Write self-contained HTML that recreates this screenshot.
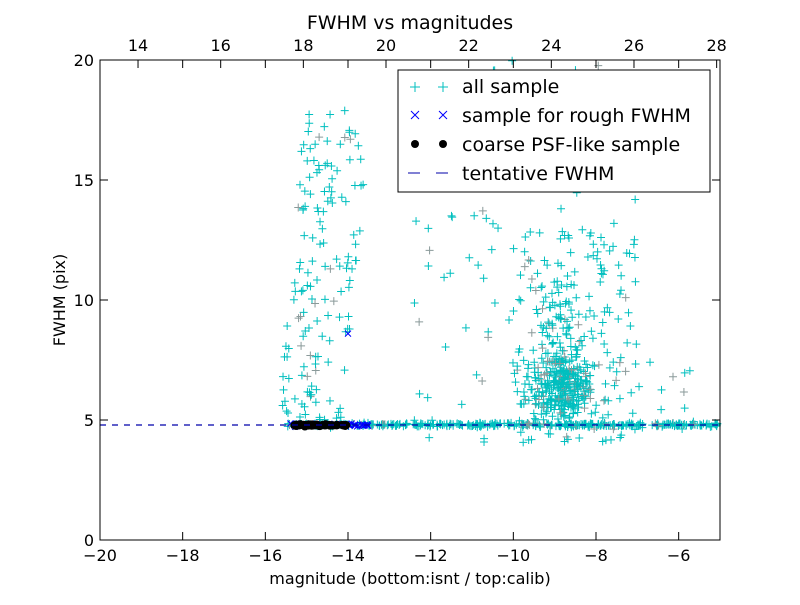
<!DOCTYPE html>
<html><head><meta charset="utf-8"><style>
body{margin:0;background:#fff;}
svg text{font-family:"DejaVu Sans","Liberation Sans",sans-serif;}
</style></head><body>
<svg id="s" width="800" height="600" xmlns="http://www.w3.org/2000/svg">
<rect width="800" height="600" fill="#fff"/>
<g id="pts"></g>
<line x1="100" y1="425" x2="720" y2="425" stroke="#0000aa" stroke-width="1.2" stroke-dasharray="6,6"/>
<rect x="100" y="60" width="620" height="480" fill="none" stroke="#000" stroke-width="1"/>
<g id="ticks" stroke="#000" stroke-width="1"></g>
<g id="lbl" font-size="16" fill="#000"></g>
<text x="410" y="29" font-size="19" text-anchor="middle">FWHM vs magnitudes</text>
<text x="410" y="584" font-size="16" text-anchor="middle">magnitude (bottom:isnt / top:calib)</text>
<text x="65" y="300" font-size="16" text-anchor="middle" transform="rotate(-90 65 300)">FWHM (pix)</text>
<g id="leg">
<rect x="398" y="70" width="312" height="122" fill="#fff" stroke="#000"/>
<g stroke="#00bfbf" stroke-width="1"><path d="M410 87h10M415 82v10M438 87h10M443 82v10"/></g>
<g stroke="#0000ff" stroke-width="1"><path d="M411 111l8 8M411 119l8-8M439 111l8 8M439 119l8-8"/></g>
<circle cx="415" cy="144" r="4" fill="#000"/><circle cx="443" cy="144" r="4" fill="#000"/>
<path d="M408 173h12M436 173h12" stroke="#0000aa"/>
<g font-size="19"><text x="462" y="93">all sample</text><text x="462" y="122">sample for rough FWHM</text><text x="462" y="151">coarse PSF-like sample</text><text x="462" y="180">tentative FWHM</text></g>
</g>
</svg>
<script>
var s=1234567;function r(){s=(s*16807)%2147483647;return s/2147483647;}
function g(){return (r()+r()+r()+r()-2)/1.15;}
var X=function(v){return 100+(v+20)*620/15},Y=function(v){return 540-v*24};
var out=[];
function plus(x,y){var px=X(x),py=Y(y);if(px<100||px>720||py<60||py>540)return;var c=r()<0.1?'#8a9a9a':'#00bfbf';out.push('<path d="M'+(px-4)+' '+py+'h8M'+px+' '+(py-4)+'v8" stroke="'+c+'"/>');}
var i;
for(i=0;i<400;i++)plus(-15.5+r()*10.5,4.8+g()*0.08);
for(i=0;i<150;i++){var yy=5+Math.pow(r(),1.3)*13;plus(-15.7+r()*1.6+(yy-5)*0.05,yy);}
for(i=0;i<350;i++)plus(-8.8+g()*0.7,6.3+g()*1.3+(r()<0.3?r()*4:0));
for(i=0;i<150;i++)plus(-10+r()*3,4+r()*9);
for(i=0;i<70;i++)plus(-12.5+r()*5.5,8+r()*12);
for(i=0;i<40;i++)plus(-12.5+r()*7,4+r()*3.5);
for(i=0;i<60;i++){var px=X(-15.4+r()*1.9),py=Y(4.8+g()*0.06);out.push('<path d="M'+(px-3)+' '+(py-3)+'l6 6M'+(px-3)+' '+(py+3)+'l6-6" stroke="#0000ff"/>');}
out.push('<path d="M'+(X(-14)-3)+' '+(Y(8.6)-3)+'l6 6M'+(X(-14)-3)+' '+(Y(8.6)+3)+'l6-6" stroke="#0000ff"/>');
for(i=0;i<60;i++){out.push('<circle cx="'+X(-15.3+r()*1.3)+'" cy="'+Y(4.78+g()*0.04)+'" r="4" fill="#000"/>');}
document.getElementById('pts').innerHTML=out.join('');
var t=[],l=[];
for(var v=-20;v<=-6;v+=2){var x=X(v);t.push('<path d="M'+x+' 540v-8M'+x+' 60v8"/>');l.push('<text x="'+x+'" y="561" text-anchor="middle">'+(v<0?'\u2212'+(-v):v)+'</text>');}
for(v=0;v<=20;v+=5){var y=Y(v);t.push('<path d="M100 '+y+'h8M720 '+y+'h-8"/>');l.push('<text x="94" y="'+(y+6)+'" text-anchor="end">'+v+'</text>');}
for(v=14;v<=28;v+=2){var x2=100+(v-13.08)*41.33;t.push('<path d="M'+x2+' 60v8"/>');l.push('<text x="'+x2+'" y="51" text-anchor="middle">'+v+'</text>');}
document.getElementById('ticks').innerHTML=t.join('');
document.getElementById('lbl').innerHTML=l.join('');
</script>
</body></html>
